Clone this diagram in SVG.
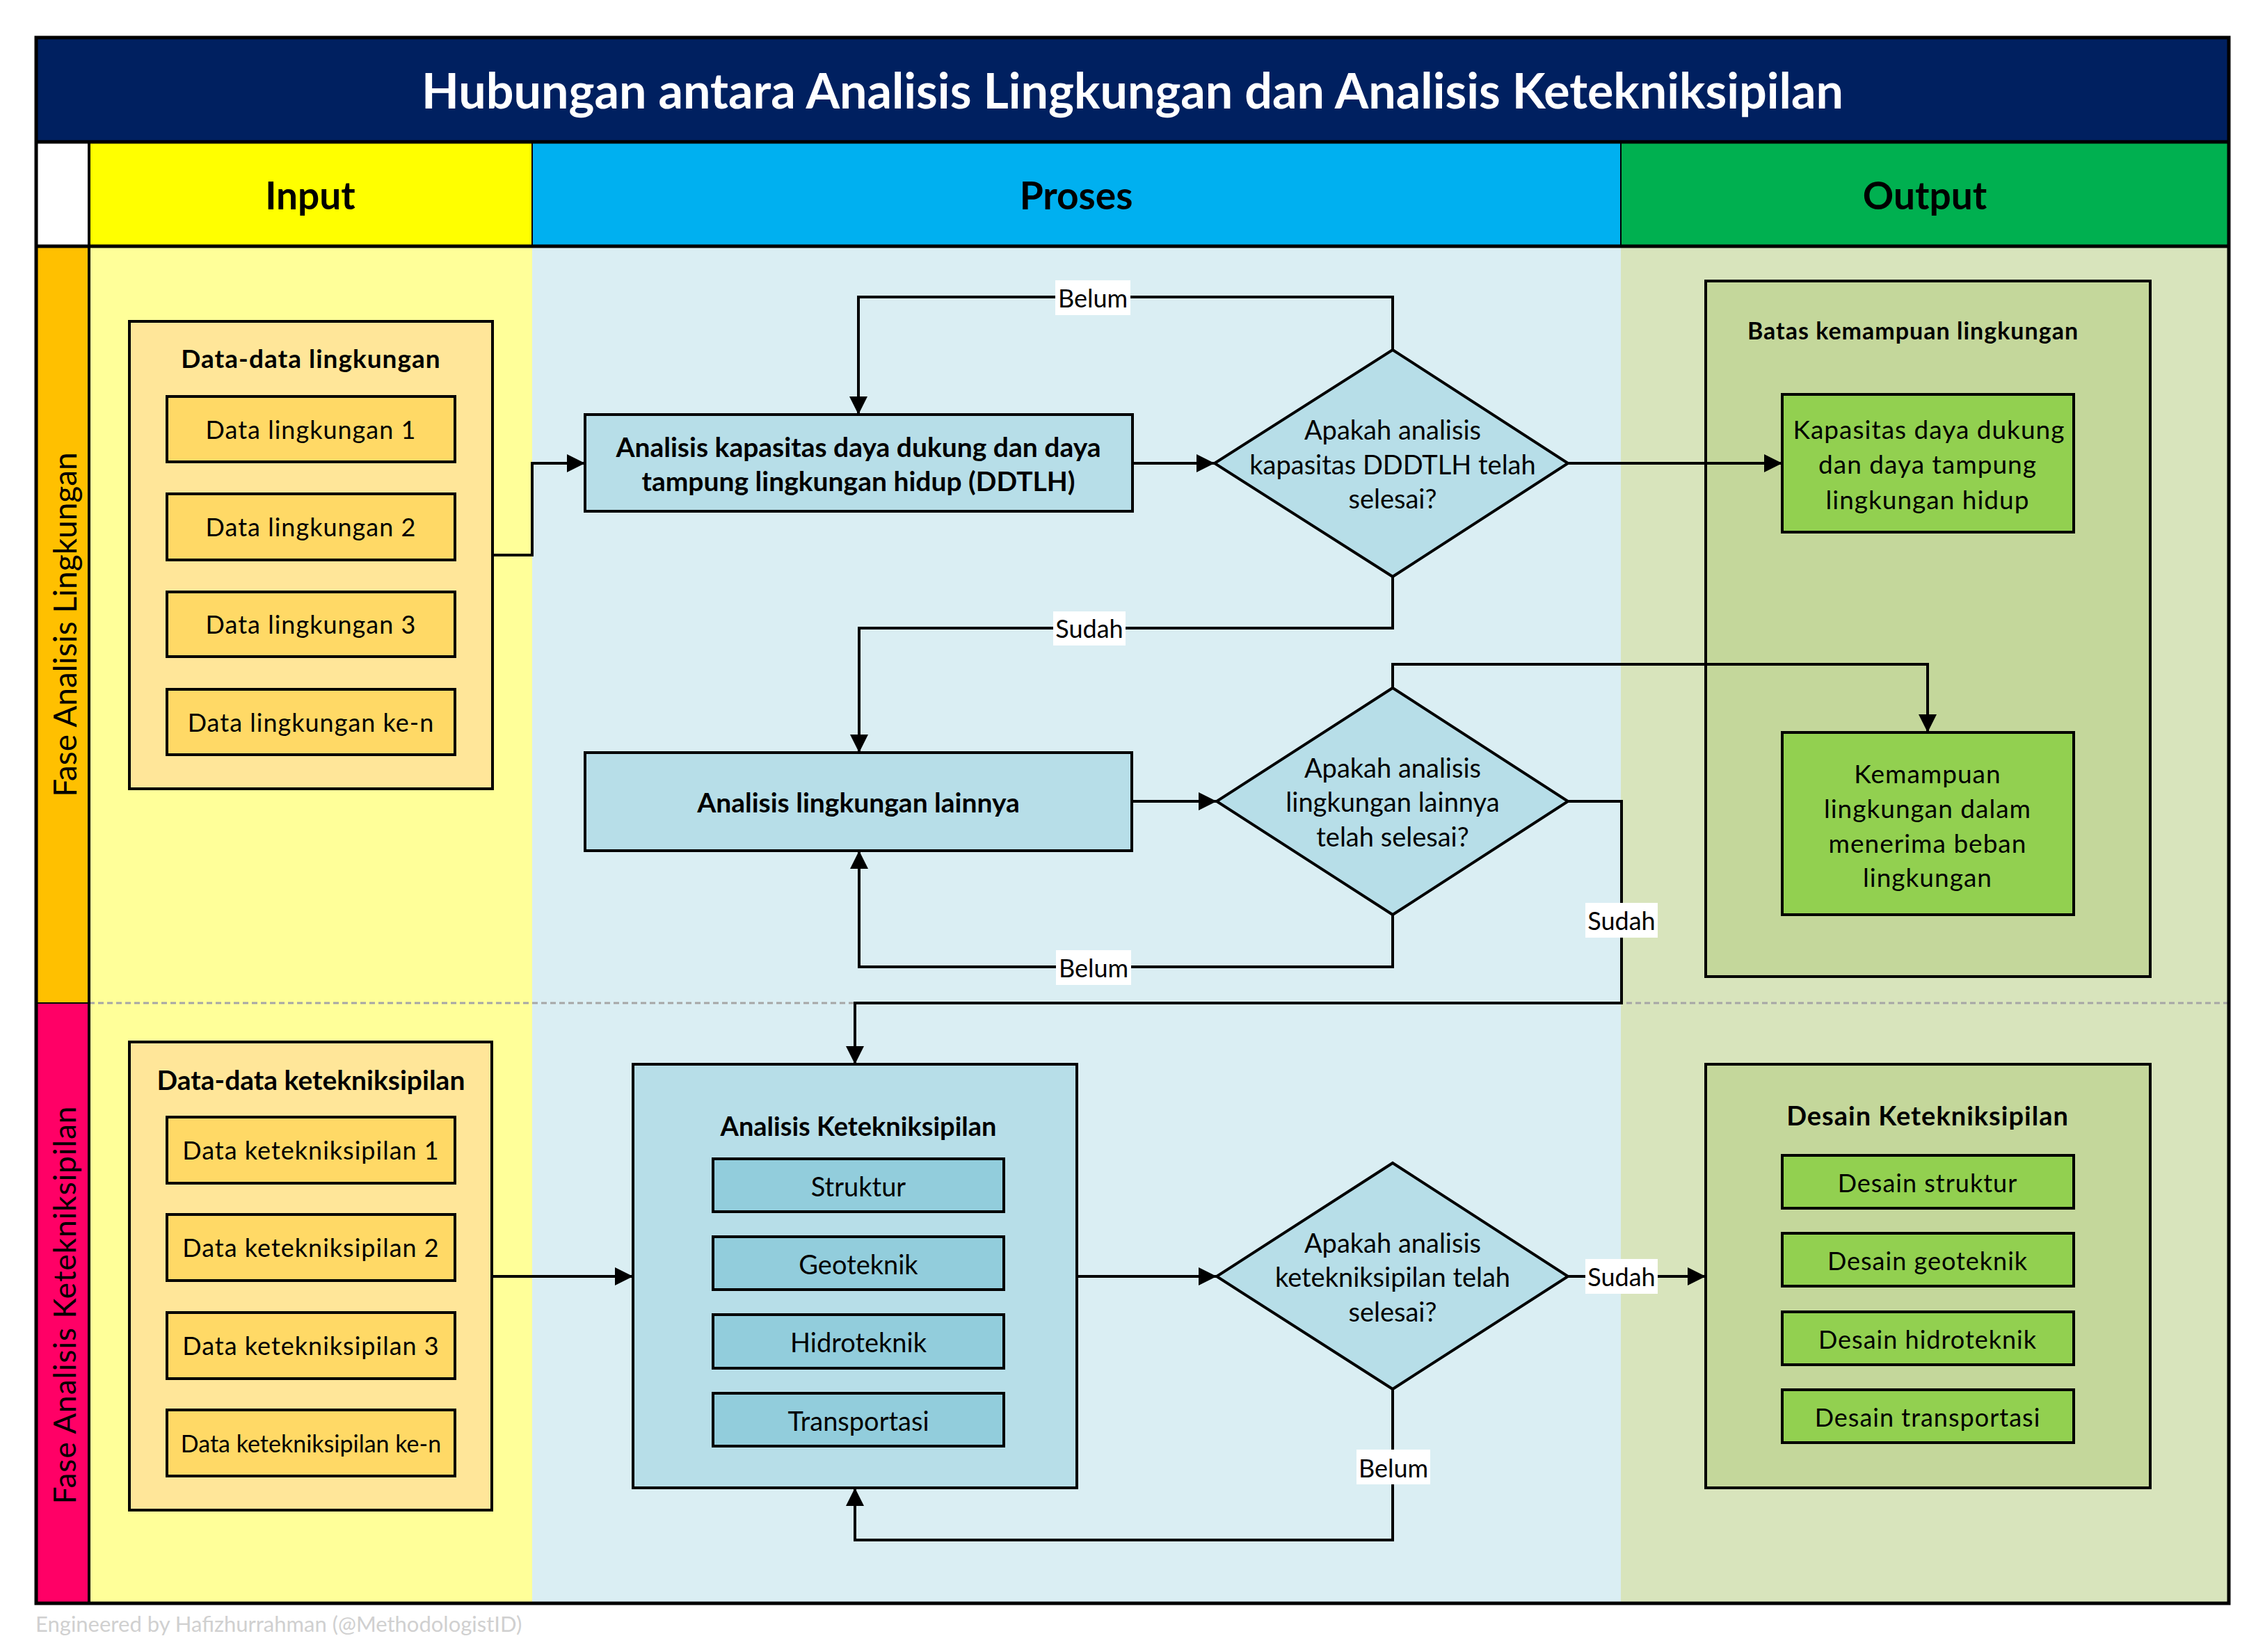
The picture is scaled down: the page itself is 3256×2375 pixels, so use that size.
<svg xmlns="http://www.w3.org/2000/svg" width="3256" height="2375" viewBox="0 0 3256 2375">
<defs>
<marker id="arr" viewBox="0 0 10 10" refX="10" refY="5" markerWidth="28" markerHeight="26" markerUnits="userSpaceOnUse" orient="auto"><path d="M0,0 L10,5 L0,10 z" fill="#000"/></marker>
<style>
text{font-family:Lato,"Open Sans","Liberation Sans",sans-serif;text-anchor:middle;dominant-baseline:central;fill:#000}
.b{font-weight:bold}
.box{stroke:#000;stroke-width:4}
.din{fill:#FFE699}
.dbx{fill:#FFD966}
.pr{fill:#B7DEE8}
.sub{fill:#92CDDC}
.oo{fill:#C4D79B}
.oi{fill:#92D050}
.t{font-size:36px;letter-spacing:1px}
.h{font-size:38px}
.lab{font-size:36px}
.c{fill:none;stroke:#000;stroke-width:4;marker-end:url(#arr)}
</style>
</defs>
<rect width="3256" height="2375" fill="#fff"/>
<g id="lanes">
<rect x="52" y="54" width="3152" height="150" fill="#002060"/>
<rect x="52" y="204" width="76" height="150" fill="#fff"/>
<rect x="128" y="204" width="637" height="150" fill="#FFFF00"/>
<rect x="765" y="204" width="1565" height="150" fill="#00B0F0"/>
<rect x="2330" y="204" width="874" height="150" fill="#00B050"/>
<rect x="52" y="354" width="76" height="1088" fill="#FFC000"/>
<rect x="52" y="1442" width="76" height="863" fill="#FF0066"/>
<rect x="128" y="354" width="637" height="1951" fill="#FFFF99"/>
<rect x="765" y="354" width="1565" height="1951" fill="#DAEEF3"/>
<rect x="2330" y="354" width="874" height="1951" fill="#D8E4BC"/>
<line x1="128" y1="1442" x2="3204" y2="1442" stroke="#A6A6A6" stroke-width="3" stroke-dasharray="8,5"/>
<line x1="128" y1="204" x2="128" y2="2305" stroke="#000" stroke-width="4"/>
<line x1="765" y1="204" x2="765" y2="354" stroke="#000" stroke-width="2"/>
<line x1="2330" y1="204" x2="2330" y2="354" stroke="#000" stroke-width="2"/>
<line x1="52" y1="204" x2="3204" y2="204" stroke="#000" stroke-width="5"/>
<line x1="52" y1="354" x2="3204" y2="354" stroke="#000" stroke-width="5"/>
<line x1="52" y1="1442" x2="128" y2="1442" stroke="#000" stroke-width="2"/>
<rect x="52" y="54" width="3152" height="2251" fill="none" stroke="#000" stroke-width="5"/>
<text x="1628" y="129" class="b" style="font-size:70px;fill:#fff">Hubungan antara Analisis Lingkungan dan Analisis Ketekniksipilan</text>
<text x="446" y="280" class="b" style="font-size:55px">Input</text>
<text x="1547" y="280" class="b" style="font-size:55px">Proses</text>
<text x="2767" y="280" class="b" style="font-size:55px">Output</text>
<text transform="translate(92,898) rotate(-90)" style="font-size:46px">Fase Analisis Lingkungan</text>
<text transform="translate(92,1876) rotate(-90)" style="font-size:44px;letter-spacing:1px">Fase Analisis Ketekniksipilan</text>
<text x="51" y="2334" style="font-size:31px;fill:#D0D0D0;text-anchor:start">Engineered by Hafizhurrahman (@MethodologistID)</text>
</g>
<g id="data-lingkungan">
<rect x="186" y="462" width="522" height="672" class="box din"/>
<text x="447" y="514" class="b" style="font-size:37px;letter-spacing:1px">Data-data lingkungan</text>
<rect x="240" y="570" width="414" height="94" class="box dbx"/><text x="447" y="617" class="t">Data lingkungan 1</text>
<rect x="240" y="710" width="414" height="95" class="box dbx"/><text x="447" y="757" class="t">Data lingkungan 2</text>
<rect x="240" y="851" width="414" height="93" class="box dbx"/><text x="447" y="897" class="t">Data lingkungan 3</text>
<rect x="240" y="991" width="414" height="94" class="box dbx"/><text x="447" y="1038" class="t">Data lingkungan ke-n</text>
</g>
<g id="data-keteknik">
<rect x="186" y="1498" width="521" height="673" class="box din"/>
<text x="447" y="1552" class="b" style="font-size:39px">Data-data ketekniksipilan</text>
<rect x="240" y="1606" width="414" height="95" class="box dbx"/><text x="447" y="1653" class="t">Data ketekniksipilan 1</text>
<rect x="240" y="1746" width="414" height="95" class="box dbx"/><text x="447" y="1793" class="t">Data ketekniksipilan 2</text>
<rect x="240" y="1887" width="414" height="95" class="box dbx"/><text x="447" y="1934" class="t">Data ketekniksipilan 3</text>
<rect x="240" y="2027" width="414" height="95" class="box dbx"/><text x="447" y="2074" style="font-size:34px">Data ketekniksipilan ke-n</text>
</g>
<g id="ddtlh">
<rect x="841" y="596" width="787" height="139" class="box pr"/>
<text x="1234" y="642" class="b" style="font-size:39px">Analisis kapasitas daya dukung dan daya</text>
<text x="1234" y="691" class="b" style="font-size:39px">tampung lingkungan hidup (DDTLH)</text>
</g>
<g id="dec1">
<polygon points="2002,503 2254,666 2002,829 1746,666" class="box pr"/>
<text x="2002" y="617" class="h">Apakah analisis</text>
<text x="2002" y="667" class="h">kapasitas DDDTLH telah</text>
<text x="2002" y="716" class="h">selesai?</text>
</g>
<g id="lainnya">
<rect x="841" y="1082" width="786" height="141" class="box pr"/>
<text x="1234" y="1153" class="b" style="font-size:39px">Analisis lingkungan lainnya</text>
</g>
<g id="dec2">
<polygon points="2002,989 2254,1152 2002,1315 1749,1152" class="box pr"/>
<text x="2002" y="1103" class="h">Apakah analisis</text>
<text x="2002" y="1152" class="h">lingkungan lainnya</text>
<text x="2002" y="1202" class="h">telah selesai?</text>
</g>
<g id="analisis-keteknik">
<rect x="910" y="1530" width="638" height="609" class="box pr"/>
<text x="1234" y="1618" class="b" style="font-size:38px">Analisis Ketekniksipilan</text>
<rect x="1025" y="1666" width="418" height="76" class="box sub"/><text x="1234" y="1705" class="h">Struktur</text>
<rect x="1025" y="1778" width="418" height="76" class="box sub"/><text x="1234" y="1817" class="h">Geoteknik</text>
<rect x="1025" y="1890" width="418" height="77" class="box sub"/><text x="1234" y="1929" class="h">Hidroteknik</text>
<rect x="1025" y="2003" width="418" height="76" class="box sub"/><text x="1234" y="2042" class="h">Transportasi</text>
</g>
<g id="dec3">
<polygon points="2002,1672 2254,1835 2002,1997 1749,1835" class="box pr"/>
<text x="2002" y="1786" class="h">Apakah analisis</text>
<text x="2002" y="1835" class="h">ketekniksipilan telah</text>
<text x="2002" y="1885" class="h">selesai?</text>
</g>
<g id="batas">
<rect x="2452" y="404" width="639" height="1000" class="box oo"/>
<text x="2750" y="474" class="b" style="font-size:34px;letter-spacing:1px">Batas kemampuan lingkungan</text>
</g>
<g id="kapasitas">
<rect x="2562" y="567" width="419" height="198" class="box oi"/>
<text x="2773" y="616" class="t" style="font-size:37px">Kapasitas daya dukung</text>
<text x="2771" y="666" class="t" style="font-size:37px">dan daya tampung</text>
<text x="2771" y="717" class="t" style="font-size:37px">lingkungan hidup</text>
</g>
<g id="kemampuan">
<rect x="2562" y="1053" width="419" height="262" class="box oi"/>
<text x="2771" y="1111" class="t" style="font-size:37px">Kemampuan</text>
<text x="2771" y="1161" class="t" style="font-size:37px">lingkungan dalam</text>
<text x="2771" y="1211" class="t" style="font-size:37px">menerima beban</text>
<text x="2771" y="1260" class="t" style="font-size:37px">lingkungan</text>
</g>
<g id="desain">
<rect x="2452" y="1530" width="639" height="609" class="box oo"/>
<text x="2771" y="1603" class="b" style="font-size:38px;letter-spacing:1px">Desain Ketekniksipilan</text>
<rect x="2562" y="1661" width="419" height="76" class="box oi"/><text x="2771" y="1700" class="t">Desain struktur</text>
<rect x="2562" y="1773" width="419" height="76" class="box oi"/><text x="2771" y="1812" class="t">Desain geoteknik</text>
<rect x="2562" y="1886" width="419" height="76" class="box oi"/><text x="2771" y="1925" class="t">Desain hidroteknik</text>
<rect x="2562" y="1998" width="419" height="76" class="box oi"/><text x="2771" y="2037" class="t">Desain transportasi</text>
</g>
<g id="connectors">
<polyline class="c" points="708,798 765,798 765,666 841,666"/>
<polyline class="c" points="1628,666 1746,666"/>
<polyline class="c" points="2002,503 2002,427 1234,427 1234,596"/>
<polyline class="c" points="2254,666 2562,666"/>
<polyline class="c" points="2002,829 2002,903 1235,903 1235,1082"/>
<polyline class="c" points="1627,1152 1749,1152"/>
<polyline class="c" points="2002,989 2002,955 2771,955 2771,1053"/>
<polyline class="c" points="2002,1315 2002,1390 1235,1390 1235,1223"/>
<polyline class="c" points="2254,1152 2331,1152 2331,1442 1229,1442 1229,1530"/>
<polyline class="c" points="707,1835 910,1835"/>
<polyline class="c" points="1548,1835 1749,1835"/>
<polyline class="c" points="2254,1835 2452,1835"/>
<polyline class="c" points="2002,1997 2002,2214 1229,2214 1229,2139"/>
<g id="labels">
<rect x="1517" y="403" width="108" height="50" fill="#fff"/><text x="1571" y="428" class="lab">Belum</text>
<rect x="1514" y="879" width="104" height="49" fill="#fff"/><text x="1566" y="903" class="lab">Sudah</text>
<rect x="1518" y="1366" width="108" height="50" fill="#fff"/><text x="1572" y="1391" class="lab">Belum</text>
<rect x="2279" y="1298" width="104" height="50" fill="#fff"/><text x="2331" y="1323" class="lab">Sudah</text>
<rect x="2279" y="1810" width="104" height="50" fill="#fff"/><text x="2331" y="1835" class="lab">Sudah</text>
<rect x="1950" y="2084" width="106" height="50" fill="#fff"/><text x="2003" y="2110" class="lab">Belum</text>
</g>
</g>
</svg>
